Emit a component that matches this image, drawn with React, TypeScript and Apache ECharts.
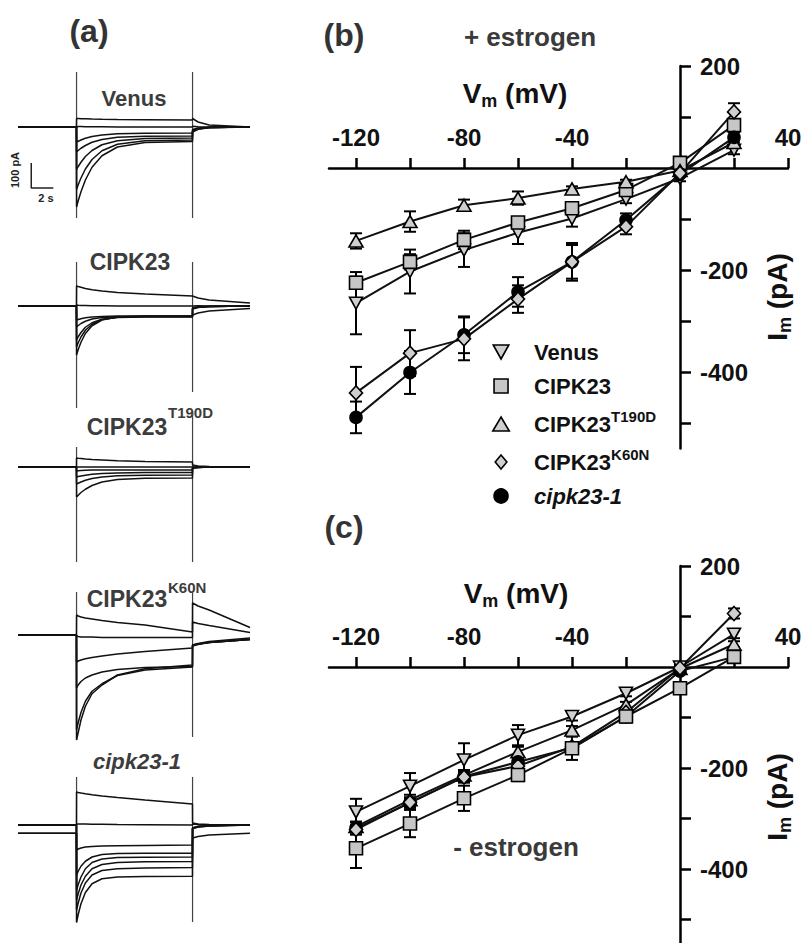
import React, { useEffect, useRef } from 'react';
import * as echarts from 'echarts';

// ---------- Panel (b)/(c) data: membrane voltage (mV) vs current (pA) ----------
const voltages = [-120, -100, -80, -60, -40, -20, 0, 20];

// + estrogen (b)
const bVenus = [-265, -203, -161, -127, -99, -61, -20, 35];
const bVenusErr = [61, 43, 33, 22, 16, 8, 6, 8];
const bCIPK23 = [-225, -184, -141, -107, -79, -43, 10, 84];
const bCIPK23Err = [12, 15, 18, 10, 8, 6, 5, 10];
const bT190D = [-143, -105, -73, -59, -41, -27, -5, 50];
const bT190DErr = [15, 20, 11, 13, 5, 4, 4, 6];
const bK60N = [-441, -363, -335, -257, -184, -115, -10, 110];
const bK60NErr = [51, 45, 42, 27, 37, 15, 6, 17];
const bCipk = [-489, -401, -327, -243, -184, -102, -12, 60];
const bCipkErr = [31, 42, 36, 29, 33, 13, 5, 10];

// - estrogen (c)
const cVenus = [-287, -236, -184, -135, -98, -52, 0, 65];
const cVenusErr = [26, 26, 33, 20, 8, 6, 4, 8];
const cCIPK23 = [-359, -310, -260, -214, -161, -98, -42, 20];
const cCIPK23Err = [39, 27, 25, 12, 23, 12, 6, 6];
const cT190D = [-316, -263, -214, -168, -125, -75, -3, 45];
const cT190DErr = [10, 10, 10, 10, 8, 6, 4, 6];
const cK60N = [-322, -268, -218, -196, -158, -90, -2, 106];
const cK60NErr = [10, 10, 10, 10, 8, 6, 4, 10];
const cCipk = [-319, -269, -217, -188, -160, -98, -8, 20];
const cCipkErr = [12, 10, 12, 10, 8, 6, 4, 6];

// axis ticks / labels
const ivXTicks = [-120, -100, -80, -60, -40, -20, 20, 40];
const ivXLabels = [-120, -80, -40, 40];
const ivYTicks = [-500, -400, -300, -200, -100, 100, 200];
const ivYLabels = [200, -200, -400];

// ---------- Panel (a) current traces (time s, current pA) ----------
const traceTimes = [0, 5.29, 5.3, 5.45, 5.7, 6.1, 6.7, 7.6, 9.0, 11.5, 15.79, 15.8, 16.3, 17.3, 21];
const pulseOn = 5.3;
const pulseOff = 15.8;

const venusTraces = [
  [0, 0, 34, 34, 33, 33, 32, 31, 30, 29, 28, 34, 20, 8, 0],
  [0, 0, 2, 2, 2, 1, 1, 1, 0, 0, 0, 3, 1, 0, 0],
  [0, 0, -60, -57, -52, -45, -38, -32, -27, -25, -24, -10, -4, -1, 0],
  [0, 0, -100, -94, -85, -74, -61, -50, -41, -37, -36, -14, -6, -2, 0],
  [0, 0, -170, -158, -141, -118, -94, -71, -55, -46, -44, -16, -7, -2, 0],
  [0, 0, -250, -231, -204, -168, -130, -95, -69, -55, -52, -18, -8, -2, 0],
  [0, 0, -320, -295, -259, -212, -161, -115, -80, -62, -58, -20, -9, -3, 0],
];
const cipk23Traces = [
  [0, 0, 80, 78, 75, 70, 65, 60, 54, 48, 40, 38, 32, 24, 12],
  [0, 0, 4, 3, 2, 2, 1, 1, 0, 0, 0, 2, 1, 0, 0],
  [0, 0, -56, -54, -51, -47, -44, -42, -40, -40, -40, -8, -4, -2, 0],
  [0, 0, -84, -78, -70, -61, -52, -46, -43, -42, -42, -8, -4, -2, 0],
  [0, 0, -136, -123, -106, -85, -67, -53, -46, -44, -44, -10, -5, -2, 0],
  [0, 0, -164, -147, -124, -97, -73, -54, -45, -42, -42, -12, -6, -2, 0],
  [0, 0, -196, -174, -145, -110, -79, -56, -44, -40, -40, -36, -28, -20, -10],
];
const t190dTraces = [
  [0, 0, 36, 35, 34, 32, 30, 28, 25, 22, 20, 8, 4, 2, 0],
  [0, 0, 0, 0, 0, 0, 0, 0, 0, 0, 0, 0, 0, 0, 0],
  [0, 0, -16, -15, -14, -13, -12, -12, -12, -12, -12, -2, 0, 0, 0],
  [0, 0, -40, -38, -36, -33, -29, -26, -24, -22, -22, -4, -2, 0, 0],
  [0, 0, -68, -65, -60, -53, -46, -40, -35, -33, -32, -4, -2, 0, 0],
  [0, 0, -120, -113, -102, -89, -74, -60, -50, -45, -44, -4, -2, 0, 0],
];
const k60nTraces = [
  [0, 0, 80, 76, 72, 68, 64, 58, 50, 40, 12, 128, 116, 100, 30],
  [0, 0, -4, -6, -8, -8, -8, -10, -10, -10, -10, 52, 46, 38, 10],
  [0, 0, -108, -104, -100, -95, -90, -84, -76, -66, -52, -40, -34, -26, -12],
  [0, 0, -212, -200, -186, -172, -160, -148, -138, -130, -126, -40, -36, -30, -18],
  [0, 0, -420, -390, -340, -285, -235, -200, -160, -135, -120, -40, -36, -30, -18],
  [0, 0, -380, -350, -310, -265, -225, -195, -162, -140, -128, -44, -38, -30, -18],
];
const cipk231Traces = [
  [0, 0, 132, 130, 128, 125, 121, 116, 110, 100, 84, 8, 4, 2, 0],
  [0, 0, 4, 4, 4, 4, 3, 3, 2, 1, 0, 4, 2, 0, 0],
  [-33, -33, -100, -96, -92, -88, -86, -84, -83, -82, -80, -52, -46, -40, -33],
  [0, 0, -200, -185, -165, -145, -128, -118, -114, -113, -113, -12, -6, -2, 0],
  [0, 0, -260, -238, -208, -175, -150, -136, -130, -129, -128, -12, -6, -2, 0],
  [0, 0, -300, -275, -240, -205, -175, -158, -150, -147, -146, -12, -6, -2, 0],
  [-33, -33, -340, -312, -272, -232, -200, -182, -175, -172, -170, -14, -8, -4, 0],
  [0, 0, -390, -358, -315, -270, -235, -215, -208, -206, -205, -14, -8, -4, 0],
];
// capacitive transients [on top, on bottom, off top, off bottom] (pA)
const transientVenus = [220, -364, 220, -364];
const transientCipk23 = [176, -408, 176, -344];
const transientT190D = [80, -380, 216, -380];
const transientK60N = [172, -420, 168, -408];
const transientCipk231 = [192, -388, 192, -388];
// scale bar: 100 pA, 2 s
const scaleBar = [[1.2, -144], [1.2, -244], [3.2, -244]];

const FONT = '"Liberation Sans", Arial, Helvetica, sans-serif';

// ---------- layout ----------
const aBaselines = [127, 306, 467, 635, 825];
const A_PX = 0.25; // px per pA
const A_YMIN = -440;
const A_YMAX = 240;

const IV_LEFT = 329;
const IV_WIDTH = 459;
const IV_XMIN = -130;
const IV_XMAX = 40;
const IV_YMIN = -550;
const IV_YMAX = 200;

function buildOption() {
  const grids: any[] = [];
  const xAxes: any[] = [];
  const yAxes: any[] = [];
  const series: any[] = [];

  const aSets = [
    { traces: venusTraces, tr: transientVenus },
    { traces: cipk23Traces, tr: transientCipk23 },
    { traces: t190dTraces, tr: transientT190D },
    { traces: k60nTraces, tr: transientK60N },
    { traces: cipk231Traces, tr: transientCipk231 },
  ];
  aSets.forEach((set, i) => {
    grids.push({
      left: 18, width: 232,
      top: aBaselines[i] - A_YMAX * A_PX,
      height: (A_YMAX - A_YMIN) * A_PX,
      outerBoundsMode: 'none',
    });
    xAxes.push({ gridIndex: i, type: 'value', min: 0, max: 21, show: false });
    yAxes.push({ gridIndex: i, type: 'value', min: A_YMIN, max: A_YMAX, show: false });
    series.push({
      type: 'line', name: 'on' + i, xAxisIndex: i, yAxisIndex: i, silent: true,
      data: [[pulseOn, set.tr[0]], [pulseOn, set.tr[1]]],
      symbol: 'none', lineStyle: { color: '#444', width: 1.2 }, z: 1,
    });
    series.push({
      type: 'line', name: 'off' + i, xAxisIndex: i, yAxisIndex: i, silent: true,
      data: [[pulseOff, set.tr[2]], [pulseOff, set.tr[3]]],
      symbol: 'none', lineStyle: { color: '#444', width: 1.2 }, z: 1,
    });
    set.traces.forEach((tr, k) => {
      series.push({
        type: 'line', name: 'trace' + i + '_' + k, xAxisIndex: i, yAxisIndex: i, silent: true,
        data: traceTimes.map((t, j) => [t, tr[j]]),
        symbol: 'none', lineStyle: { color: '#111', width: 1.5 }, z: 2,
      });
    });
  });
  series.push({
    type: 'line', name: 'scalebar', xAxisIndex: 0, yAxisIndex: 0, silent: true,
    data: scaleBar, symbol: 'none', lineStyle: { color: '#222', width: 1.5 }, z: 2,
  });

  // ---------- I-V panels ----------
  const ivGrids = [
    { top: 66, pxPerPA: 0.51 },
    { top: 566, pxPerPA: 0.505 },
  ];
  const pxPerMV = IV_WIDTH / (IV_XMAX - IV_XMIN);
  ivGrids.forEach((g, n) => {
    const gi = 5 + n;
    grids.push({
      left: IV_LEFT, width: IV_WIDTH, top: g.top,
      height: (IV_YMAX - IV_YMIN) * g.pxPerPA, outerBoundsMode: 'none',
    });
    xAxes.push({
      gridIndex: gi, type: 'value', min: IV_XMIN, max: IV_XMAX, position: 'top',
      offset: -IV_YMAX * g.pxPerPA,
      axisLine: { onZero: false, lineStyle: { color: '#000', width: 2.5 } },
      axisTick: { show: true, length: 10, inside: false, lineStyle: { color: '#000', width: 2.5 }, customValues: ivXTicks },
      axisLabel: { customValues: ivXLabels, margin: 19, fontSize: 24, fontWeight: 'bold', color: '#111', fontFamily: FONT },
      splitLine: { show: false },
    });
    yAxes.push({
      gridIndex: gi, type: 'value', min: IV_YMIN, max: IV_YMAX, position: 'right',
      offset: -IV_XMAX * pxPerMV,
      axisLine: { onZero: false, lineStyle: { color: '#000', width: 2.5 } },
      axisTick: { show: true, length: 11, inside: false, lineStyle: { color: '#000', width: 2.5 }, customValues: ivYTicks },
      axisLabel: { customValues: ivYLabels, margin: 20, fontSize: 24, fontWeight: 'bold', color: '#111', fontFamily: FONT },
      splitLine: { show: false },
    });
  });

  const styles: Record<string, any> = {
    'Venus': { symbol: 'path://M0,0L10,0L5,9Z', size: [13, 12], fill: '#cfcfcf' },
    'CIPK23': { symbol: 'rect', size: 13, fill: '#c6c6c6' },
    'CIPK23 T190D': { symbol: 'triangle', size: [14, 12], fill: '#cfcfcf' },
    'CIPK23 K60N': { symbol: 'diamond', size: [13, 14], fill: '#cfcfcf' },
    'cipk23-1': { symbol: 'circle', size: 12, fill: '#000' },
  };
  const groupsB = [
    { name: 'Venus', vals: bVenus, errs: bVenusErr },
    { name: 'CIPK23', vals: bCIPK23, errs: bCIPK23Err },
    { name: 'CIPK23 T190D', vals: bT190D, errs: bT190DErr },
    { name: 'cipk23-1', vals: bCipk, errs: bCipkErr },
    { name: 'CIPK23 K60N', vals: bK60N, errs: bK60NErr },
  ];
  const groupsC = [
    { name: 'Venus', vals: cVenus, errs: cVenusErr },
    { name: 'CIPK23 T190D', vals: cT190D, errs: cT190DErr },
    { name: 'cipk23-1', vals: cCipk, errs: cCipkErr },
    { name: 'CIPK23 K60N', vals: cK60N, errs: cK60NErr },
    { name: 'CIPK23', vals: cCIPK23, errs: cCIPK23Err },
  ];
  const errRender = (params: any, api: any) => {
    const x = api.value(0);
    const y = api.value(1);
    const e = api.value(2);
    const hi = api.coord([x, y + e]);
    const lo = api.coord([x, y - e]);
    const w = 6;
    const st = { stroke: '#000', lineWidth: 2 };
    return {
      type: 'group',
      children: [
        { type: 'line', shape: { x1: hi[0], y1: hi[1], x2: lo[0], y2: lo[1] }, style: st },
        { type: 'line', shape: { x1: hi[0] - w, y1: hi[1], x2: hi[0] + w, y2: hi[1] }, style: st },
        { type: 'line', shape: { x1: lo[0] - w, y1: lo[1], x2: lo[0] + w, y2: lo[1] }, style: st },
      ],
    };
  };
  [groupsB, groupsC].forEach((groups, n) => {
    const gi = 5 + n;
    groups.forEach((g) => {
      const s = styles[g.name];
      series.push({
        type: 'custom', name: g.name + ' error', xAxisIndex: gi, yAxisIndex: gi, silent: true,
        data: voltages.map((v, i) => [v, g.vals[i], g.errs[i]]),
        encode: { x: 0, y: 1 }, renderItem: errRender, z: 3,
      });
      series.push({
        type: 'line', name: g.name, xAxisIndex: gi, yAxisIndex: gi,
        data: voltages.map((v, i) => [v, g.vals[i]]),
        symbol: s.symbol, symbolSize: s.size, showAllSymbol: true,
        itemStyle: { color: s.fill, borderColor: '#000', borderWidth: 1.6 },
        lineStyle: { color: '#111', width: 2 }, z: 4,
      });
    });
  });

  const legendLabels: Record<string, string> = {
    'Venus': '{b|Venus}',
    'CIPK23': '{b|CIPK23}',
    'CIPK23 T190D': '{b|CIPK23}{s|T190D}',
    'CIPK23 K60N': '{b|CIPK23}{s|K60N}',
    'cipk23-1': '{i|cipk23-1}',
  };
  const legendIcons: Record<string, string> = {
    'Venus': 'path://M0,0L10,0L5,9Z',
    'CIPK23': 'path://M0,0H10V10H0Z',
    'CIPK23 T190D': 'path://M5,0L10,8.5H0Z',
    'CIPK23 K60N': 'path://M5,0L10,6L5,12L0,6Z',
    'cipk23-1': 'circle',
  };
  const legendOrder = ['Venus', 'CIPK23', 'CIPK23 T190D', 'CIPK23 K60N', 'cipk23-1'];

  const T = (x: number, y: number, text: string, size: number, extra: any = {}) => ({
    type: 'text', x, y, silent: true, rotation: extra.rotation || 0,
    style: {
      text, fontSize: size, fontWeight: 'bold', fontFamily: FONT,
      fontStyle: extra.italic ? 'italic' : 'normal',
      fill: extra.fill || '#333', align: extra.align || 'center', verticalAlign: 'middle',
      textAlign: extra.align || 'center', textVerticalAlign: 'middle',
      rich: extra.rich,
    },
  });
  const vmRich = {
    v: { fontSize: 28, fontWeight: 'bold', fontFamily: FONT, fill: '#111', color: '#111', lineHeight: 34, verticalAlign: 'middle' },
    s: { fontSize: 18, fontWeight: 'bold', fontFamily: FONT, fill: '#111', color: '#111', lineHeight: 18, verticalAlign: 'bottom' },
  };

  const graphic = [
    T(89, 31, '(a)', 32),
    T(344, 35, '(b)', 32),
    T(344, 527, '(c)', 32),
    T(530, 37, '+ estrogen', 26, { fill: '#3a3a3a' }),
    T(516, 847, '- estrogen', 26, { fill: '#3a3a3a' }),
    T(515, 93, '{v|V}{s|m}{v| (mV)}', 28, { rich: vmRich, fill: '#111' }),
    T(516, 593, '{v|V}{s|m}{v| (mV)}', 28, { rich: vmRich, fill: '#111' }),
    T(777, 297, '{v|I}{s|m}{v| (pA)}', 28, { rich: vmRich, fill: '#111', rotation: Math.PI / 2 }),
    T(777, 797, '{v|I}{s|m}{v| (pA)}', 28, { rich: vmRich, fill: '#111', rotation: Math.PI / 2 }),
    T(134, 98, 'Venus', 22, { fill: '#3c3c3c' }),
    T(130, 262, 'CIPK23', 23, { fill: '#3c3c3c' }),
    T(127, 427, 'CIPK23', 23, { fill: '#3c3c3c' }),
    T(168, 412, 'T190D', 15, { fill: '#3c3c3c', align: 'left' }),
    T(127, 599, 'CIPK23', 23, { fill: '#3c3c3c' }),
    T(168, 587, 'K60N', 15, { fill: '#3c3c3c', align: 'left' }),
    T(137, 761, 'cipk23-1', 22, { fill: '#3c3c3c', italic: true }),
    T(15, 170, '100 pA', 11, { fill: '#222', rotation: Math.PI / 2 }),
    T(46, 198, '2 s', 11, { fill: '#222' }),
  ];

  return {
    animation: false,
    backgroundColor: '#ffffff',
    textStyle: { fontFamily: FONT },
    grid: grids,
    xAxis: xAxes,
    yAxis: yAxes,
    legend: {
      show: true, orient: 'vertical', left: 487, top: 336, itemGap: 12,
      itemWidth: 56, itemHeight: 14, selectedMode: false,
      data: legendOrder.map((nm) => ({
        name: nm, icon: legendIcons[nm],
        itemStyle: { color: styles[nm].fill, borderColor: '#000', borderWidth: 1.6 },
      })),
      formatter: (nm: string) => legendLabels[nm] || nm,
      textStyle: {
        fontSize: 22, fontWeight: 'bold', color: '#111', fontFamily: FONT,
        rich: {
          b: { fontSize: 22, fontWeight: 'bold', color: '#111', fontFamily: FONT, lineHeight: 30, verticalAlign: 'middle' },
          s: { fontSize: 15, fontWeight: 'bold', color: '#111', fontFamily: FONT, lineHeight: 15, verticalAlign: 'top' },
          i: { fontSize: 22, fontWeight: 'bold', fontStyle: 'italic', color: '#111', fontFamily: FONT, lineHeight: 30, verticalAlign: 'middle' },
        },
      },
    },
    graphic,
    series,
  };
}

export default function App() {
  const ref = useRef<HTMLDivElement>(null);
  useEffect(() => {
    if (!ref.current) return;
    const chart = echarts.init(ref.current, null, { renderer: 'svg' });
    chart.setOption(buildOption() as any);
    return () => chart.dispose();
  }, []);
  return (
    <div
      ref={ref}
      style={{ position: 'absolute', left: 0, top: 0, width: 803, height: 943, background: '#fff' }}
    />
  );
}
